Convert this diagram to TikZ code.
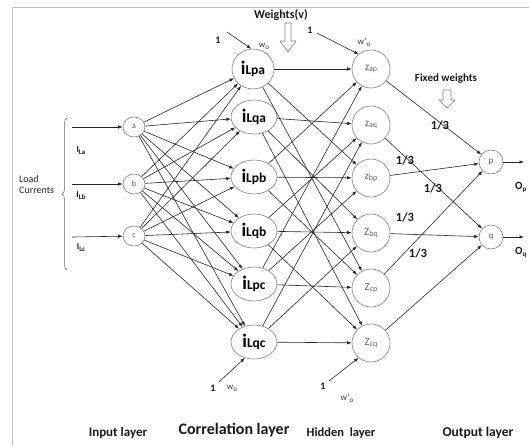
\documentclass[tikz,border=0pt]{standalone}
\usepackage{fontspec}
\setmainfont{Carlito}
\usetikzlibrary{arrows.meta,shapes.geometric,decorations.pathreplacing}
\newcommand\fs[1]{\fontsize{#1}{#1}\selectfont}
\newcommand\corrlab[1]{\bfseries{\fs{19}i}{\fs{13.5}#1}}
\newcommand\zlab[2]{{\fs{11}#1}{\fs{8}\raisebox{-1.5pt}{#2}}}
\newcommand\sublab[3]{{\fs{#1}#2}{\fs{7}\raisebox{-2pt}{#3}}}
\begin{document}
\begin{tikzpicture}[x=1pt,y=-1pt,
 line join=round,
 arr/.style={draw=black!85, line width=0.6pt, -{Latex[length=4.5pt,width=3.4pt]}},
 ring/.style={draw=black!50, line width=0.6pt, inner sep=0pt},
 innode/.style={ring, ellipse, minimum width=22pt, minimum height=20pt, text=black!65, font=\fs{8}},
 cornode/.style={ring, ellipse, minimum width=46pt, minimum height=34pt},
 hidnode/.style={ring, circle, minimum size=38pt, text=black!60},
 outnode/.style={ring, ellipse, minimum width=24pt, minimum height=24pt, text=black!65, font=\fs{9}},
 bt/.style={font=\bfseries\fs{#1}, inner sep=0pt, text=black!90},
 hollow/.style={draw=black!50, line width=0.6pt, fill=white},
]
\useasboundingbox (0,0) rectangle (529,445);
\draw[black!25, line width=0.6pt] (12,445) -- (12,7) -- (529,7);

% input layer
\node[innode] (a) at (134,127) {a};
\node[innode] (b) at (134,184) {b};
\node[innode] (c) at (134,236) {c};

% correlation layer
\node[cornode, minimum width=42pt, minimum height=40pt] (c1) at (253,69) {\corrlab{Lpa}};
\node[cornode] (c2) at (254,117) {\corrlab{Lqa}};
\node[cornode] (c3) at (254,177) {\corrlab{Lpb}};
\node[cornode] (c4) at (254,231) {\corrlab{Lqb}};
\node[cornode] (c5) at (254,284) {\corrlab{Lpc}};
\node[cornode] (c6) at (254,342) {\corrlab{Lqc}};

% hidden layer
\node[hidnode] (h1) at (371,69) {\zlab{z}{ap}};
\node[hidnode] (h2) at (371,125) {\zlab{z}{aq}};
\node[hidnode] (h3) at (371,178) {\zlab{z}{bp}};
\node[hidnode] (h4) at (371,233) {\zlab{Z}{bq}};
\node[hidnode] (h5) at (371,288) {\zlab{Z}{cp}};
\node[hidnode] (h6) at (371,343) {\zlab{Z}{cq}};

% output layer
\node[outnode] (p) at (491,162) {p};
\node[outnode] (q) at (491,237) {q};

% load currents
\node[font=\fs{10}, align=left, anchor=west, inner sep=0pt, text=black!85] (lc) at (19,185) {Load\\[1pt]Currents};
\draw[black!60, line width=0.5pt, decorate, decoration={brace, amplitude=5pt}] (67,270) -- (67,118);
\coordinate (ia) at (72,127);
\coordinate (ib) at (72,184);
\coordinate (ic) at (72,237);
\draw[arr] (ia) -- (a);
\draw[arr] (ib) -- (b);
\draw[arr] (ic) -- (c);
\node[bt=9] (ila) at (81,151) {\sublab{9}{I}{La}};
\node[bt=9] (ilb) at (81,196) {\sublab{9}{I}{Lb}};
\node[bt=9] (ilc) at (81,248) {\sublab{9}{I}{Lc}};

% input -> correlation
\foreach \s in {a,b,c}
  \foreach \t in {c1,c2,c3,c4,c5,c6}
    \draw[arr] (\s) -- (\t);

% correlation -> hidden
\foreach \s in {c1,c3,c5}
  \foreach \t in {h1,h3,h5}
    \draw[arr] (\s) -- (\t);
\foreach \s in {c2,c4,c6}
  \foreach \t in {h2,h4,h6}
    \draw[arr] (\s) -- (\t);

% hidden -> output
\foreach \s in {h1,h3,h5} \draw[arr] (\s) -- (p);
\foreach \s in {h2,h4,h6} \draw[arr] (\s) -- (q);

\coordinate (op) at (524,162);
\coordinate (oq) at (524,237);
\draw[arr] (p) -- (op);
\draw[arr] (q) -- (oq);
\node[bt=11, anchor=west] (olp) at (515,187) {\sublab{11}{O}{p}};
\node[bt=11, anchor=west] (olq) at (515,252) {\sublab{11}{O}{q}};

% weights (v)
\node[bt=12] (wv) at (281,15) {Weights(v)};
\draw[hollow] (285,23) -- (291,23) -- (291,41) -- (296,41) -- (288,52) -- (280,41) -- (285,41) -- cycle;

% bias inputs
\node[bt=10] (one1) at (218,40) {1};
\coordinate (s1) at (227,32);
\draw[arr] (s1) -- (c1.95);
\node[font=\fs{9}, text=black!80, inner sep=0pt] (w1) at (264,46) {\sublab{9}{w}{o}};

\node[bt=10] (one2) at (310,30) {1};
\coordinate (s2) at (317,33);
\draw[arr] (s2) -- (h1.130);
\node[font=\fs{9}, text=black!80, inner sep=0pt] (w2) at (364,42) {\sublab{9}{w'}{o}};

\node[bt=10] (one3) at (213,388) {1};
\coordinate (s3) at (219,382);
\draw[arr] (s3) -- (c6.240);
\node[font=\fs{9}, text=black!80, inner sep=0pt] (w3) at (232,388) {\sublab{9}{w}{o}};

\node[bt=10] (one4) at (323,386) {1};
\coordinate (s4) at (329,381);
\draw[arr] (s4) -- (h6.230);
\node[font=\fs{9}, text=black!80, inner sep=0pt] (w4) at (347,398) {\sublab{9}{w'}{o}};

% fixed weights
\node[bt=11] (fw) at (446,79) {Fixed weights};
\draw[hollow] (443,90) -- (451,90) -- (451,100) -- (455,100) -- (447,108) -- (439,100) -- (443,100) -- cycle;

\node[bt=12.5] (f1) at (440,125) {1/3};
\node[bt=12.5] (f2) at (405,160) {1/3};
\node[bt=12.5] (f3) at (433,188) {1/3};
\node[bt=12.5] (f4) at (405,217) {1/3};
\node[bt=12.5] (f5) at (418,253) {1/3};

% layer captions
\node[bt=13] (l1) at (118,433) {Input layer};
\node[bt=16] (l2) at (234,430) {Correlation layer};
\node[bt=12.5] (l3) at (341,433) {Hidden~~layer};
\node[bt=13.5] (l4) at (478,433) {Output layer};
\end{tikzpicture}
\end{document}
